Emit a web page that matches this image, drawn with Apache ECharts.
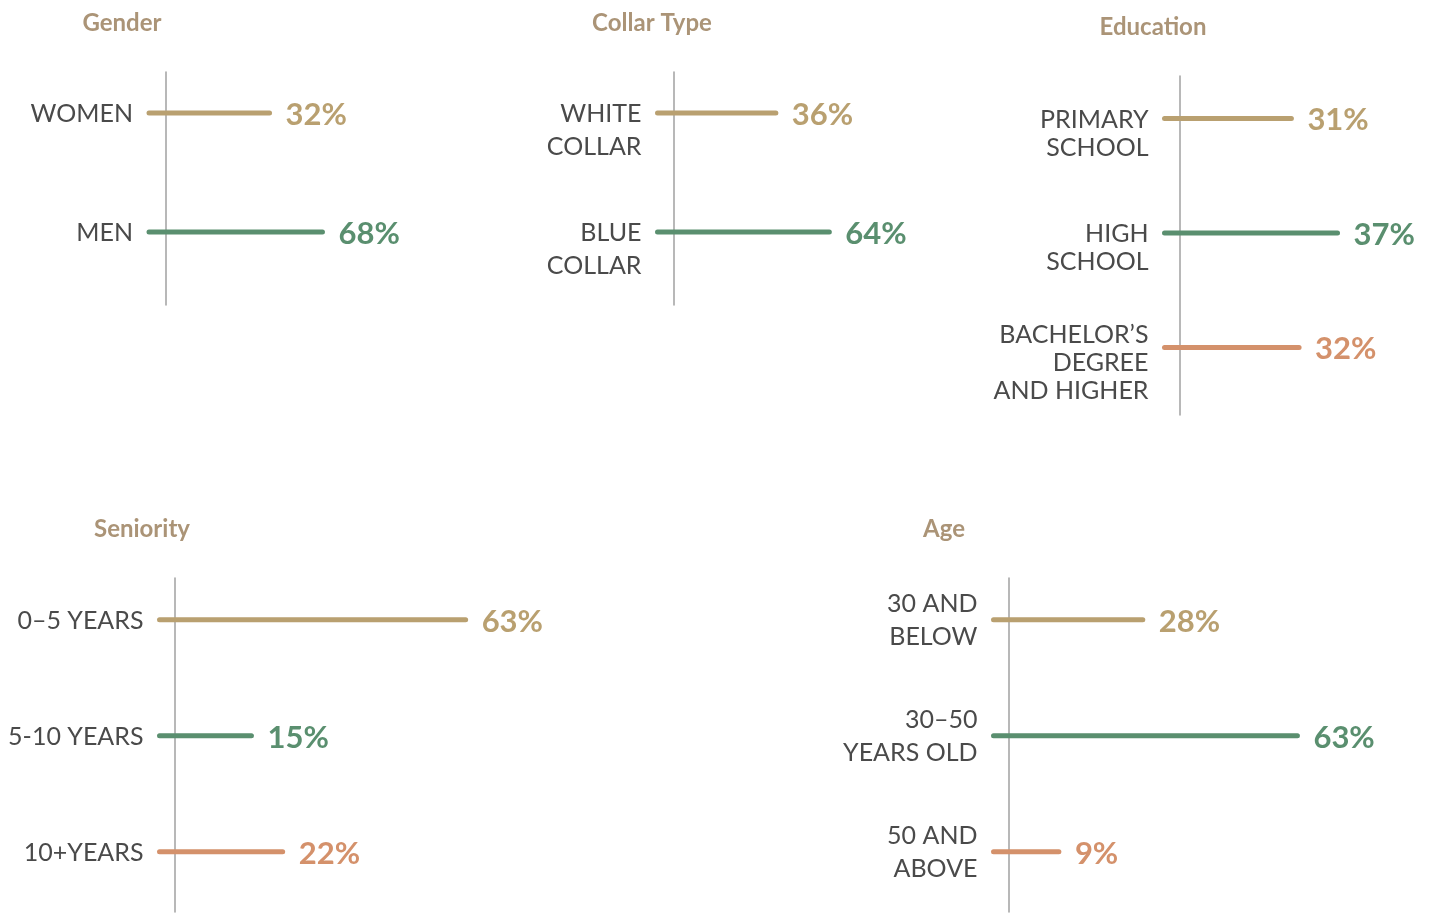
<!DOCTYPE html>
<html>
<head>
<meta charset="utf-8">
<title>Workforce profile</title>
<script src="https://cdn.jsdelivr.net/npm/echarts@6/dist/echarts.min.js"></script>
<style>
  html, body { margin: 0; padding: 0; background: #fff; }
  #chart { width: 1455px; height: 913px; }
</style>
</head>
<body>
<div id="chart"></div>
<script>
// data, one pair of arrays per panel
const titles = ['Gender', 'Collar Type', 'Education', 'Seniority', 'Age'];

const genderCats = ['WOMEN', 'MEN'];
const genderVals = [32, 68];

const collarCats = ['WHITE\nCOLLAR', 'BLUE\nCOLLAR'];
const collarVals = [36, 64];

const eduCats = ['PRIMARY\nSCHOOL', 'HIGH\nSCHOOL', 'BACHELOR\u2019S\nDEGREE\nAND HIGHER'];
const eduVals = [31, 37, 32];

const seniorityCats = ['0\u20135 YEARS', '5-10 YEARS', '10+YEARS'];
const seniorityVals = [63, 15, 22];

const ageCats = ['30 AND\nBELOW', '30\u201350\nYEARS OLD', '50 AND\nABOVE'];
const ageVals = [28, 63, 9];

const rowColors = ['#b9a070', '#5a8f6f', '#d4916b'];
const labelColor = '#4a4a4a';
const titleColor = '#ab9477';
const axisColor = '#a0a0a0';
const fontName = 'Lato';

// layout of each panel (grid box, axis ranges, label style)
const panels = [
  { title: titles[0], cats: genderCats, vals: genderVals,
    grid: { left: 149, top: 72, width: 294, height: 233 }, x: [-50, 150], y: [-0.345, 1.613],
    lineOffset: 17, lh: 33, mode: 'first', titlePos: [122, 11] },
  { title: titles[1], cats: collarCats, vals: collarVals,
    grid: { left: 657.5, top: 72, width: 336, height: 233 }, x: [-26, 150], y: [-0.345, 1.613],
    lineOffset: 16.5, lh: 33, mode: 'first', titlePos: [652, 11] },
  { title: titles[2], cats: eduCats, vals: eduVals,
    grid: { left: 1164.5, top: 76, width: 273, height: 339 }, x: [14.5, 50], y: [-0.371, 2.59],
    lineOffset: 15.5, lh: 28, mode: 'first', titlePos: [1153, 15] },
  { title: titles[3], cats: seniorityCats, vals: seniorityVals,
    grid: { left: 159.5, top: 578, width: 382, height: 334 }, x: [-5.6, 80], y: [-0.36, 2.52],
    lineOffset: 15.5, lh: 33, mode: 'center', titlePos: [142, 517] },
  { title: titles[4], cats: ageCats, vals: ageVals,
    grid: { left: 993.5, top: 578, width: 379, height: 334 }, x: [-5.8, 80], y: [-0.36, 2.52],
    lineOffset: 15.5, lh: 33, mode: 'center', titlePos: [944, 517] },
];

const myChart = echarts.init(document.getElementById('chart'));

function makeRenderer(panel) {
  return function (params, api) {
    const idx = api.value(1);
    const end = api.coord([api.value(0), idx]);
    const x0 = params.coordSys.x; // axis min sits on the grid's left edge
    const y = end[1];
    const color = rowColors[idx];
    const nLines = panel.cats[idx].split('\n').length;
    const shift = panel.mode === 'center' ? nLines / 2 : Math.max(nLines - 1, 1) / 2;
    return {
      type: 'group',
      children: [
        {
          type: 'line',
          shape: { x1: x0, y1: y, x2: end[0], y2: y },
          style: { stroke: color, lineWidth: 5, lineCap: 'round' },
        },
        {
          type: 'text',
          style: {
            text: api.value(0) + '%', x: end[0] + 16, y: y + 2,
            align: 'left', verticalAlign: 'middle',
            fill: color, fontSize: 31, fontWeight: 'bold', fontFamily: fontName,
          },
        },
        {
          type: 'text',
          style: {
            text: panel.cats[idx], x: x0 - 16, y: y - shift * panel.lh + 1,
            align: 'right', verticalAlign: 'top', lineHeight: panel.lh,
            fill: labelColor, fontSize: 25, fontFamily: fontName,
          },
        },
      ],
    };
  };
}

const option = {
  backgroundColor: '#fff',
  animation: false,
  title: panels.map(p => ({
    text: p.title,
    left: p.titlePos[0],
    top: p.titlePos[1],
    textAlign: 'center',
    padding: 0,
    textStyle: { color: titleColor, fontSize: 24, fontWeight: 'bold', fontFamily: fontName },
  })),
  grid: panels.map(p => Object.assign({ containLabel: false }, p.grid)),
  xAxis: panels.map((p, i) => ({
    type: 'value', gridIndex: i, min: p.x[0], max: p.x[1], show: false,
  })),
  yAxis: panels.map((p, i) => ({
    type: 'value', gridIndex: i, min: p.y[0], max: p.y[1], inverse: true,
    offset: -p.lineOffset,
    axisLine: { show: true, onZero: false, lineStyle: { color: axisColor, width: 1.5 } },
    axisTick: { show: false },
    axisLabel: { show: false },
    splitLine: { show: false },
  })),
  series: panels.map((p, i) => ({
    type: 'custom',
    xAxisIndex: i,
    yAxisIndex: i,
    renderItem: makeRenderer(p),
    encode: { x: 0, y: 1 },
    data: p.vals.map((v, j) => [v, j]),
  })),
};
myChart.setOption(option);
</script>
</body>
</html>
